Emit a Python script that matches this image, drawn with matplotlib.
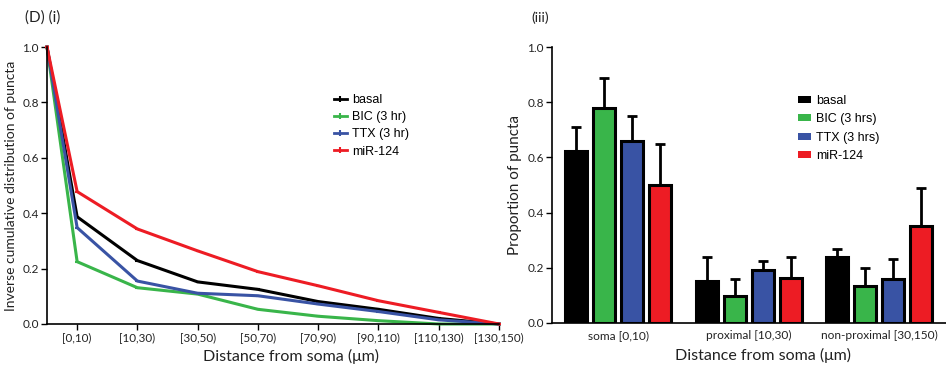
import matplotlib
matplotlib.use("Agg")
import matplotlib.pyplot as plt
import numpy as np
from matplotlib.patches import Patch
from matplotlib.lines import Line2D

# ---- data: panel (i) inverse cumulative distribution ----
bins = ["[0,10)", "[10,30)", "[30,50)", "[50,70)", "[70,90)", "[90,110)", "[110,130)", "[130,150)"]
line_labels = ["basal", "BIC (3 hr)", "TTX (3 hr)", "miR-124"]
basal = [1.0, 0.387, 0.229, 0.152, 0.125, 0.081, 0.053, 0.020, 0.0]
bic = [1.0, 0.225, 0.131, 0.108, 0.053, 0.028, 0.012, 0.0, 0.0]
ttx = [1.0, 0.348, 0.155, 0.111, 0.102, 0.072, 0.045, 0.015, 0.0]
mir = [1.0, 0.478, 0.343, 0.264, 0.189, 0.138, 0.084, 0.042, 0.0]

# ---- data: panel (iii) proportion of puncta ----
groups = ["soma [0,10)", "proximal [10,30)", "non-proximal [30,150)"]
bar_labels = ["basal", "BIC (3 hrs)", "TTX (3 hrs)", "miR-124"]
bar_basal = [0.625, 0.150, 0.240]
bar_bic = [0.780, 0.097, 0.135]
bar_ttx = [0.660, 0.190, 0.160]
bar_mir = [0.500, 0.162, 0.350]
err_basal = [0.085, 0.090, 0.027]
err_bic = [0.107, 0.062, 0.063]
err_ttx = [0.090, 0.035, 0.073]
err_mir = [0.150, 0.075, 0.140]

colors = ["#000000", "#39B54A", "#3953A4", "#ED1C24"]
tick_font = "Lato"
leg_font = "Liberation Sans"
txt_color = "#222222"

fig = plt.figure(figsize=(9.46, 3.68), dpi=100)

# ---------------- left panel ----------------
ax1 = fig.add_axes([47/946, 1-324/368, (499-47)/946, (324-47)/368])
xs = np.concatenate([[-0.5], np.arange(len(bins))])
for vals, c, lab in zip([basal, bic, ttx, mir], colors, line_labels):
    ax1.plot(xs, vals, color=c, lw=2.2, label=lab, marker='_', ms=3, mew=1.5,
             clip_on=False, solid_joinstyle='miter')
ax1.set_xlim(-0.5, len(bins)-1)
ax1.set_ylim(0, 1.0)
ax1.set_xticks(np.arange(len(bins)))
ax1.set_xticklabels(bins, fontsize=8.4, family=tick_font, color=txt_color)
yt = np.arange(0, 1.01, 0.2)
ax1.set_yticks(yt)
ax1.set_yticklabels([f"{v:.1f}" for v in yt], fontsize=8.5, family=tick_font, color=txt_color)
ax1.set_ylabel("Inverse cumulative distribution of puncta", fontsize=10, family=tick_font, color=txt_color, labelpad=4)
ax1.set_xlabel("Distance from soma (\u03bcm)", fontsize=11.5, family=tick_font, color=txt_color)
ax1.xaxis.set_label_coords((291-47)/452, -25/277)
for s in ["top", "right"]:
    ax1.spines[s].set_visible(False)
for s in ["left", "bottom"]:
    ax1.spines[s].set_linewidth(1.2)
ax1.tick_params(direction="out", length=4, width=1.0, pad=2)
handles1 = [Line2D([0], [0], color=c, lw=2.0, marker='|', ms=4, mew=1.5) for c in colors]
fig.legend(handles1, line_labels, loc="upper left", bbox_to_anchor=(334/946, 1-94/368),
           frameon=False, prop={"family": leg_font, "size": 9},
           handlelength=1.0, handletextpad=0.45, labelspacing=0.42, borderpad=0, borderaxespad=0)

# ---------------- right panel ----------------
ax2 = fig.add_axes([552/946, 1-322.7/368, (946-552)/946, (322.7-47.3)/368])
gx = np.arange(len(groups))
bw = 22/130.5
off = 28/130.5
for i, (vals, errs, c, lab) in enumerate(zip([bar_basal, bar_bic, bar_ttx, bar_mir],
                                              [err_basal, err_bic, err_ttx, err_mir],
                                              colors, bar_labels)):
    pos = gx + (i - 1.5) * off
    ax2.errorbar(pos, vals, yerr=[np.zeros(len(errs)), errs], fmt='none', ecolor='black',
                 elinewidth=2.0, capsize=3.6, capthick=2.0, zorder=1)
    ax2.bar(pos, vals, width=bw, color=c, edgecolor='black', linewidth=2.2, label=lab, zorder=2)
ax2.set_xlim(-66/130.5, (946-618)/130.5)
ax2.set_ylim(0, 1.0)
ax2.set_xticks(gx)
ax2.set_xticklabels(groups, fontsize=8.6, family=tick_font, color=txt_color)
ax2.set_yticks(yt)
ax2.set_yticklabels([f"{v:.1f}" for v in yt], fontsize=8.5, family=tick_font, color=txt_color)
ax2.set_ylabel("Proportion of puncta", fontsize=11, family=tick_font, color=txt_color, labelpad=4)
ax2.set_xlabel("Distance from soma (\u03bcm)", fontsize=11.5, family=tick_font, color=txt_color)
ax2.xaxis.set_label_coords((763-552)/394, -25/275.4)
for s in ["top", "right"]:
    ax2.spines[s].set_visible(False)
for s in ["left", "bottom"]:
    ax2.spines[s].set_linewidth(1.2)
ax2.tick_params(axis='y', direction="out", length=4, width=1.0, pad=2)
ax2.tick_params(axis='x', length=0, pad=5)
handles2 = [Patch(facecolor=c, edgecolor='none') for c in colors]
fig.legend(handles2, bar_labels, loc="upper left", bbox_to_anchor=(798/946, 1-95/368),
           frameon=False, prop={"family": leg_font, "size": 9},
           handlelength=1.0, handleheight=0.5, handletextpad=0.45, labelspacing=0.5, borderpad=0, borderaxespad=0)

# panel labels
fig.text(25/946, 1-18/368, "(D) (i)", fontsize=11, family=tick_font, color=txt_color, va="center", ha="left")
fig.text(531/946, 1-18/368, "(iii)", fontsize=10, family=tick_font, color=txt_color, va="center", ha="left")

fig.savefig("out.png", dpi=100)
